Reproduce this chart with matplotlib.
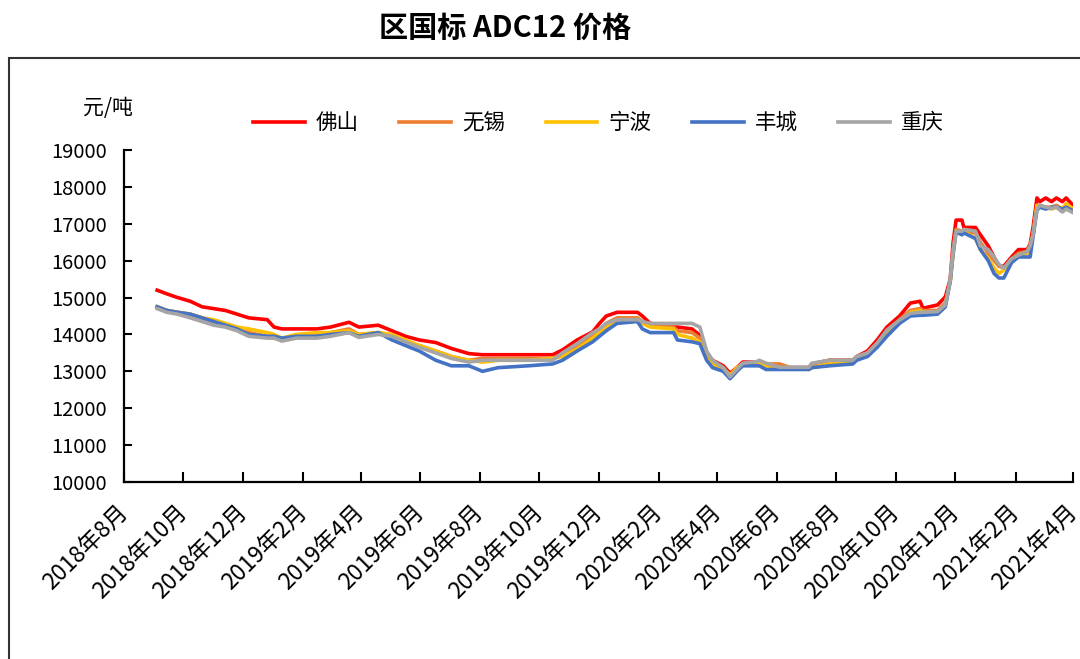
import numpy as np
import pandas as pd
import matplotlib
matplotlib.use("Agg")
import matplotlib.pyplot as plt
from matplotlib.patches import Rectangle

plt.rcParams['font.family'] = ['Noto Sans CJK SC', 'DejaVu Sans']

# price data (元/吨)
dates = ["2018-09-04", "2018-09-14", "2018-09-25", "2018-10-08", "2018-10-20", "2018-11-01",
         "2018-11-13", "2018-11-25", "2018-12-07", "2018-12-26", "2019-01-02", "2019-01-10",
         "2019-01-25", "2019-02-15", "2019-03-01", "2019-03-20", "2019-03-30", "2019-04-19",
         "2019-05-03", "2019-05-17", "2019-05-31", "2019-06-17", "2019-07-03", "2019-07-21",
         "2019-08-04", "2019-08-20", "2019-09-20", "2019-10-15", "2019-10-25", "2019-11-09",
         "2019-11-25", "2019-12-02", "2019-12-09", "2019-12-20", "2020-01-10", "2020-01-15",
         "2020-01-23", "2020-02-16", "2020-02-20", "2020-03-06", "2020-03-14", "2020-03-21",
         "2020-03-27", "2020-04-07", "2020-04-14", "2020-04-21", "2020-04-27", "2020-05-11",
         "2020-05-14", "2020-05-21", "2020-06-04", "2020-06-15", "2020-07-04", "2020-07-07",
         "2020-07-25", "2020-08-18", "2020-08-22", "2020-09-02", "2020-09-12", "2020-09-22",
         "2020-10-05", "2020-10-16", "2020-10-26", "2020-10-29", "2020-11-13", "2020-11-21",
         "2020-11-26", "2020-11-29", "2020-12-02", "2020-12-08", "2020-12-10", "2020-12-22",
         "2020-12-27", "2021-01-04", "2021-01-10", "2021-01-15", "2021-01-20", "2021-01-28",
         "2021-02-04", "2021-02-13", "2021-02-16", "2021-02-19", "2021-02-23", "2021-02-26",
         "2021-03-04", "2021-03-10", "2021-03-15", "2021-03-21", "2021-03-25", "2021-04-01"]

foshan = [15200, 15100, 15000, 14900, 14750, 14700, 14650, 14550, 14450, 14400, 14200, 14150,
          14150, 14150, 14200, 14330, 14200, 14250, 14100, 13950, 13850, 13780, 13620, 13480,
          13450, 13450, 13450, 13450, 13580, 13850, 14070, 14300, 14500, 14600, 14600, 14500,
          14300, 14200, 14200, 14150, 13980, 13500, 13300, 13150, 12950, 13100, 13250, 13250,
          13250, 13200, 13100, 13100, 13100, 13200, 13300, 13300, 13400, 13550, 13850, 14200,
          14500, 14850, 14900, 14710, 14800, 15020, 15500, 16500, 17100, 17100, 16900, 16900,
          16700, 16400, 16100, 15850, 15850, 16100, 16300, 16300, 16450, 16900, 17700, 17600,
          17700, 17600, 17700, 17600, 17700, 17500]

wuxi = [14750, 14650, 14600, 14550, 14450, 14350, 14250, 14150, 14050, 13950, 13950, 13900,
        13950, 14000, 14050, 14150, 14000, 14050, 13950, 13800, 13700, 13550, 13400, 13300,
        13350, 13350, 13350, 13350, 13450, 13700, 13950, 14100, 14300, 14450, 14450, 14350,
        14250, 14200, 14100, 14050, 13900, 13450, 13250, 13100, 12900, 13050, 13200, 13250,
        13250, 13200, 13200, 13100, 13100, 13200, 13300, 13300, 13400, 13500, 13750, 14100,
        14400, 14650, 14700, 14650, 14650, 14850, 15450, 16300, 16850, 16800, 16800, 16750,
        16500, 16200, 16000, 15850, 15800, 16050, 16200, 16250, 16400, 16700, 17500, 17500,
        17450, 17450, 17500, 17400, 17500, 17400]

ningbo = [14750, 14650, 14600, 14550, 14450, 14400, 14300, 14200, 14150, 14050, 14000, 13900,
          14000, 14050, 14050, 14100, 14000, 14050, 14000, 13850, 13700, 13550, 13400, 13300,
          13250, 13300, 13300, 13350, 13400, 13600, 13900, 14050, 14200, 14400, 14400, 14300,
          14200, 14150, 14000, 13900, 13800, 13400, 13200, 13050, 12900, 13100, 13200, 13250,
          13250, 13150, 13100, 13100, 13050, 13100, 13200, 13250, 13350, 13450, 13700, 14050,
          14350, 14600, 14650, 14600, 14600, 14800, 15450, 16200, 16800, 16750, 16800, 16600,
          16300, 16050, 15800, 15650, 15750, 16000, 16150, 16200, 16350, 16700, 17500, 17450,
          17450, 17400, 17450, 17400, 17550, 17400]

fengcheng = [14750, 14650, 14600, 14550, 14450, 14350, 14250, 14150, 14000, 13950, 13950, 13900,
             13950, 13950, 14000, 14050, 13950, 14050, 13850, 13700, 13550, 13300, 13150, 13150,
             13000, 13100, 13150, 13200, 13300, 13550, 13800, 13950, 14100, 14300, 14350, 14150,
             14050, 14050, 13850, 13800, 13750, 13300, 13100, 13000, 12800, 13000, 13150, 13150,
             13150, 13050, 13050, 13050, 13050, 13100, 13150, 13200, 13300, 13400, 13650, 13950,
             14300, 14500, 14520, 14520, 14550, 14750, 15450, 16200, 16780, 16700, 16750, 16600,
             16300, 16000, 15650, 15530, 15530, 15950, 16100, 16100, 16100, 16650, 17370, 17450,
             17400, 17450, 17450, 17400, 17450, 17350]

chongqing = [14700, 14600, 14550, 14450, 14350, 14250, 14200, 14100, 13950, 13900, 13900, 13820,
             13900, 13900, 13950, 14050, 13920, 14000, 13950, 13800, 13650, 13500, 13350, 13250,
             13300, 13300, 13300, 13300, 13500, 13750, 14050, 14150, 14300, 14400, 14400, 14350,
             14300, 14300, 14300, 14300, 14200, 13550, 13300, 13100, 12850, 13050, 13220, 13260,
             13300, 13220, 13110, 13110, 13110, 13220, 13300, 13300, 13400, 13500, 13770, 14120,
             14390, 14570, 14600, 14600, 14620, 14800, 15470, 16250, 16800, 16800, 16850, 16800,
             16400, 16300, 16100, 15900, 15800, 16050, 16150, 16250, 16400, 16700, 17400, 17500,
             17450, 17420, 17450, 17320, 17400, 17300]

names = ["佛山", "无锡", "宁波", "丰城", "重庆"]
colors = ["#FF0000", "#ED7D31", "#FFC000", "#4472C4", "#A5A5A5"]

x = pd.to_datetime(dates)

fig = plt.figure(figsize=(10.8, 6.59), dpi=100)
ax = fig.add_axes([124 / 1080, 1 - 482 / 659, (1073 - 124) / 1080, (482 - 150) / 659])

for vals, name, c in zip([foshan, wuxi, ningbo, fengcheng, chongqing], names, colors):
    ax.plot(x, vals, color=c, lw=2.6, label=name)

ax.set_ylim(10000, 19000)
ax.set_yticks(np.arange(10000, 19001, 1000))
ax.set_xlim(pd.Timestamp("2018-08-01"), pd.Timestamp("2021-04-01"))
ticks = pd.date_range("2018-08-01", "2021-04-01", freq="2MS")
ax.set_xticks(ticks)
ax.set_xticklabels([f"{d.year}年{d.month}月" for d in ticks], rotation=45,
                   ha='right', va='center', rotation_mode='anchor')

for s in ["top", "right"]:
    ax.spines[s].set_visible(False)
for s in ["left", "bottom"]:
    ax.spines[s].set_linewidth(1.6)
ax.tick_params(axis='y', direction='in', length=6, width=1.5, labelsize=14.5, pad=12)
ax.tick_params(axis='x', direction='in', length=7, width=1.5, labelsize=16.5, pad=19)

ax.text(-0.017, 1.127, "元/吨", transform=ax.transAxes, fontsize=15, ha='center', va='center')
ax.legend(loc='center', bbox_to_anchor=(0.5, 1.081), ncol=5, frameon=False, fontsize=15.5,
          handlelength=2.4, columnspacing=1.9, handletextpad=0.5)

fig.text(505 / 1080, 1 - 28 / 659, "区国标 ADC12 价格", fontsize=21, fontweight='bold',
         ha='center', va='center')

fig.patches.append(Rectangle((9 / 1080, -0.05), 1.1, 1 - 58 / 659 + 0.05,
                             transform=fig.transFigure, fill=False, ec='#333333', lw=1.5))

fig.savefig("out.png", dpi=100)
